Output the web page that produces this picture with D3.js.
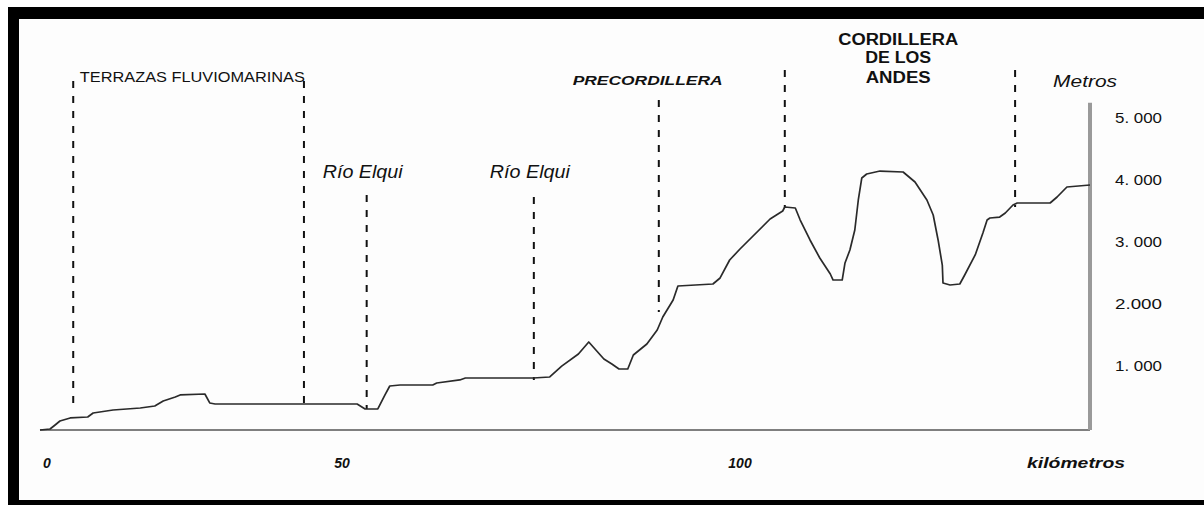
<!DOCTYPE html>
<html>
<head>
<meta charset="utf-8">
<script src="https://cdn.jsdelivr.net/npm/d3@7"></script>
<style>
  html, body { margin: 0; padding: 0; background: #fff; }
  svg { display: block; }
  text { font-family: "Liberation Sans", Arial, sans-serif; fill: #111; }
</style>
</head>
<body>
<svg id="chart" width="1204" height="505"></svg>
<script>
// ---- Data (km along profile, elevation in metres) ----
const profileKm = [0, 1.66, 2.5, 3.3, 5.0, 7.9, 8.8, 12.1, 16.6, 19.0, 20.4, 22.4, 23.2, 27.3, 28.1, 29.0,
  51.9, 52.9, 54.5, 55.4, 56.0, 57.3, 61.4, 61.9, 64.8, 65.5, 74.0, 76.1, 77.6, 79.7, 81.0, 82.9, 83.9, 84.8, 85.9,
  86.6, 88.3, 89.6, 90.3, 91.6, 92.2, 96.6, 97.5, 98.7, 100, 104.3, 106.1, 106.4, 107.9, 108.6, 110.0, 111.4,
  112.9, 113.3, 114.6, 115.0, 115.7, 116.4, 116.9, 117.4, 118.1, 120.0, 123.3, 125.0, 126.7, 127.6, 128.3,
  128.9, 129.0, 130.0, 131.4, 132.1, 133.6, 134.7, 135.3, 135.7, 137.1, 137.9, 139.0, 139.6, 144.3, 145.3,
  146.7, 150];
const profileElev = [0, 16, 81, 145, 194, 210, 274, 323, 355, 387, 468, 532, 565, 581, 436, 419,
  419, 339, 339, 565, 710, 726, 726, 758, 807, 839, 839, 855, 1030, 1226, 1419, 1145, 1065, 984, 984,
  1210, 1387, 1613, 1823, 2097, 2323, 2355, 2452, 2742, 2919, 3403, 3532, 3597, 3581, 3387, 3065, 2774,
  2516, 2419, 2419, 2694, 2903, 3226, 3710, 4065, 4129, 4177, 4161, 4000, 3710, 3468, 3065,
  2661, 2371, 2339, 2355, 2500, 2823, 3177, 3387, 3419, 3435, 3500, 3629, 3661, 3661, 3758,
  3919, 3952];

// dashed boundary lines
const boundaryKm   = [5.5, 43.7, 53.1, 74.1, 89.8, 106.4, 139.3];
const boundaryTop  = [5629, 5629, 3790, 3758, 5323, 5806, 5806];
const boundaryBase = [306, 419, 339, 807, 1903, 3581, 3597];

// region / feature labels
const labelText = ["TERRAZAS FLUVIOMARINAS", "Río Elqui", "Río Elqui", "PRECORDILLERA",
  "CORDILLERA", "DE LOS", "ANDES", "Metros"];
const labelKm   = [6.6, 52.6, 73.6, 88.4, 122.6, 122.6, 122.6, 149.3];
const labelElev = [5613, 4065, 4065, 5565, 6210, 5919, 5597, 5532];

// axis ticks
const yTickValues = [1000, 2000, 3000, 4000, 5000];
const yTickLabels = ["1. 000", "2.000", "3. 000", "4. 000", "5. 000"];
const xTickValues = [0, 50, 100];
const xTickLabels = ["0", "50", "100"];
const xAxisTitle = "kilómetros";
const axisMaxKm = 150;
const axisTopElev = 5280;

// ---- Drawing ----
const svg = d3.select("#chart");
const W = 1204, H = 505;

// frame
svg.append("rect").attr("x", 8).attr("y", 7).attr("width", W).attr("height", H).attr("fill", "#000");
svg.append("rect").attr("x", 19).attr("y", 19).attr("width", W).attr("height", 500 - 19).attr("fill", "#fdfdfd");

const x = d3.scaleLinear().domain([0, 50, 100, 150]).range([40, 342, 740, 1090]);
const y = d3.scaleLinear().domain([0, 5000]).range([430, 120]);

// baseline (x axis)
svg.append("line")
  .attr("x1", x(0)).attr("x2", x(axisMaxKm))
  .attr("y1", y(0)).attr("y2", y(0))
  .attr("stroke", "#555").attr("stroke-width", 1.6);

// right vertical axis
svg.append("line")
  .attr("x1", x(axisMaxKm)).attr("x2", x(axisMaxKm))
  .attr("y1", y(0)).attr("y2", y(axisTopElev))
  .attr("stroke", "#9a9a9a").attr("stroke-width", 4);

// dashed boundaries
svg.selectAll(".bound").data(boundaryKm).join("line")
  .attr("class", "bound")
  .attr("x1", d => x(d)).attr("x2", d => x(d))
  .attr("y1", (d, i) => y(boundaryTop[i]))
  .attr("y2", (d, i) => y(boundaryBase[i]))
  .attr("stroke", "#111").attr("stroke-width", 2)
  .attr("stroke-dasharray", "7,8");

// profile
const pts = profileKm.map((k, i) => [k, profileElev[i]]);
svg.append("path")
  .datum(pts)
  .attr("d", d3.line().x(d => x(d[0])).y(d => y(d[1])))
  .attr("fill", "none").attr("stroke", "#2a2a2a").attr("stroke-width", 1.7)
  .attr("stroke-linejoin", "round");

// labels
const labelStyle = [
  {size: 14, style: "normal", weight: "normal", anchor: "start", len: 225},
  {size: 18, style: "italic", weight: "normal", anchor: "middle", len: 80},
  {size: 18, style: "italic", weight: "normal", anchor: "middle", len: 80},
  {size: 13, style: "italic", weight: "bold", anchor: "middle", len: 150},
  {size: 16, style: "normal", weight: "bold", anchor: "middle", len: 120},
  {size: 16, style: "normal", weight: "bold", anchor: "middle", len: 66},
  {size: 16, style: "normal", weight: "bold", anchor: "middle", len: 65},
  {size: 17, style: "italic", weight: "normal", anchor: "middle", len: 64}
];
svg.selectAll(".lbl").data(labelText).join("text")
  .attr("class", "lbl")
  .attr("x", (d, i) => x(labelKm[i]))
  .attr("y", (d, i) => y(labelElev[i]))
  .attr("text-anchor", (d, i) => labelStyle[i].anchor)
  .attr("font-size", (d, i) => labelStyle[i].size)
  .attr("font-style", (d, i) => labelStyle[i].style)
  .attr("font-weight", (d, i) => labelStyle[i].weight)
  .attr("textLength", (d, i) => labelStyle[i].len)
  .attr("lengthAdjust", "spacingAndGlyphs")
  .text(d => d);

// y tick labels (right side)
svg.selectAll(".ytick").data(yTickValues).join("text")
  .attr("class", "ytick")
  .attr("x", x(axisMaxKm) + 25)
  .attr("y", d => y(d) + 3)
  .attr("font-size", 14)
  .attr("textLength", (d, i) => yTickLabels[i].replace(" ", "").length === 5 ? 47 : 51)
  .attr("lengthAdjust", "spacingAndGlyphs")
  .text((d, i) => yTickLabels[i]);

// x tick labels
svg.selectAll(".xtick").data(xTickValues).join("text")
  .attr("class", "xtick")
  .attr("x", d => x(d) + (d === 0 ? 7 : 0))
  .attr("y", y(0) + 38)
  .attr("text-anchor", "middle")
  .attr("font-size", 14)
  .attr("font-style", "italic")
  .attr("font-weight", "bold")
  .text((d, i) => xTickLabels[i]);

svg.append("text")
  .attr("x", x(axisMaxKm) - 14)
  .attr("y", y(0) + 38)
  .attr("text-anchor", "middle")
  .attr("font-size", 15)
  .attr("font-style", "italic")
  .attr("font-weight", "bold")
  .attr("textLength", 98)
  .attr("lengthAdjust", "spacingAndGlyphs")
  .text(xAxisTitle);
</script>
</body>
</html>
